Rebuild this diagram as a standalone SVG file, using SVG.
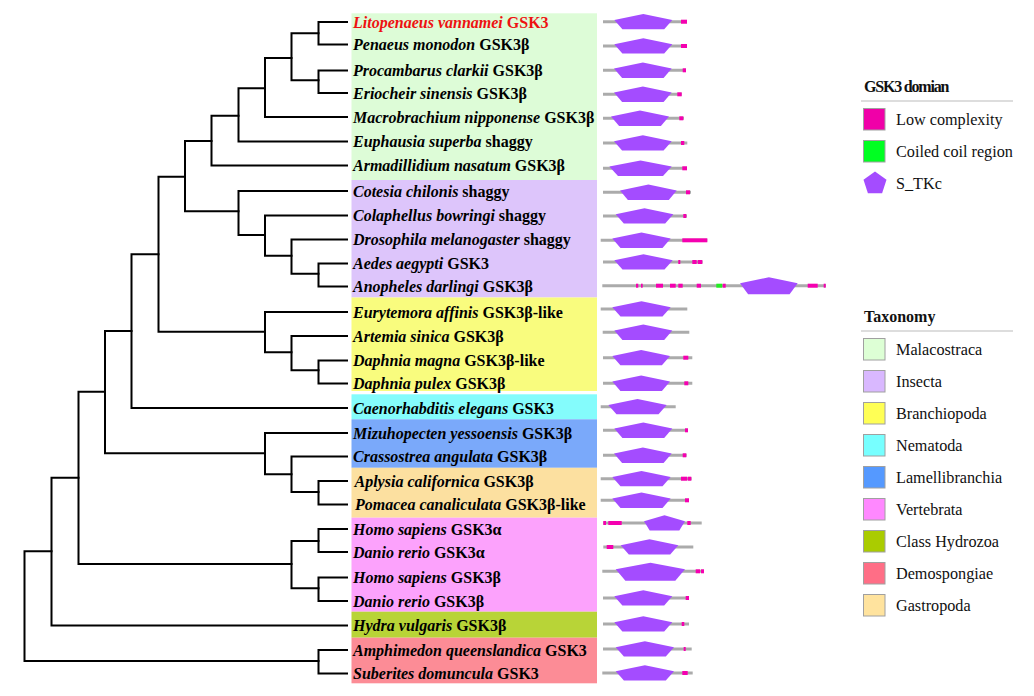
<svg xmlns="http://www.w3.org/2000/svg" width="1034" height="696" viewBox="0 0 1034 696">
<style>
.tree{fill:none;stroke:#000;stroke-width:2;stroke-linecap:square;stroke-linejoin:miter}
.lbl{font-family:"Liberation Serif","Times New Roman",serif;font-size:16px;font-weight:bold;fill:#000}
.lbl tspan.sp{font-style:italic}
.red{fill:#EE1111}
.bb{stroke:#ABABAB;stroke-width:3}
.pe{fill:#A44CFF}
.lc{fill:#F500B0}
.cc{fill:#22EE22}
.lt{font-family:"Liberation Serif","Times New Roman",serif;font-size:16px;font-weight:bold;fill:#111}
.li{font-family:"Liberation Serif","Times New Roman",serif;font-size:16.2px;fill:#111}
.sw{stroke:#A0A0A0;stroke-width:1}
.rule{stroke:#BBBBBB;stroke-width:1}
</style>
<rect width="1034" height="696" fill="#fff"/>
<g id="bands">
<rect x="351.5" y="13.3" width="245.5" height="166.7" fill="#DDFCD7"/>
<rect x="351.5" y="180" width="245.5" height="117.5" fill="#DDC5FB"/>
<rect x="351.5" y="297.5" width="245.5" height="93.5" fill="#F9FC7E"/>
<rect x="351.5" y="394.3" width="245.5" height="25" fill="#84FCFC"/>
<rect x="351.5" y="419.3" width="245.5" height="48.5" fill="#7AA9FA"/>
<rect x="351.5" y="467.8" width="245.5" height="49.9" fill="#FCE0A0"/>
<rect x="351.5" y="517.7" width="245.5" height="94" fill="#FCA2FC"/>
<rect x="351.5" y="611.7" width="245.5" height="26" fill="#B8D437"/>
<rect x="351.5" y="637.7" width="245.5" height="45.6" fill="#FC8C96"/>
</g>
<g id="connectors" class="tree">
<path d="M347,22 H318.5 V44.5 H347"/>
<path d="M347,70.5 H318.5 V93 H347"/>
<path d="M318.5,33.3 H291.5 V80.3 H318.5"/>
<path d="M291.5,58 H265 V117 H347"/>
<path d="M265,88.3 H238.5 V141.5 H347"/>
<path d="M238.5,115.7 H211.5 V165.5 H347"/>
<path d="M211.5,141 H185 V211.3 H238.5"/>
<path d="M347,191 H238.5 V235 H265"/>
<path d="M347,215.5 H265 V255.7 H291.5"/>
<path d="M347,239.5 H291.5 V273.7 H318.5"/>
<path d="M347,263.5 H318.5 V286.5 H347"/>
<path d="M185,176.7 H158.5 V331.7 H265"/>
<path d="M347,312 H265 V352.3 H291.5"/>
<path d="M347,336 H291.5 V370.3 H318.5"/>
<path d="M347,360.5 H318.5 V383.5 H347"/>
<path d="M158.5,254.3 H131.5 V408 H347"/>
<path d="M131.5,331 H105 V453.3 H265"/>
<path d="M347,433 H265 V474.3 H291.5"/>
<path d="M347,456.5 H291.5 V492 H318.5"/>
<path d="M347,481 H318.5 V504.5 H347"/>
<path d="M105,391.7 H78.5 V564 H291.5"/>
<path d="M318.5,541 H291.5 V588.3 H318.5"/>
<path d="M347,529 H318.5 V552 H347"/>
<path d="M347,577.5 H318.5 V601 H347"/>
<path d="M78.5,477.7 H51.5 V625.5 H347"/>
<path d="M51.5,551.3 H24.5 V661 H318.5"/>
<path d="M347,650 H318.5 V673.5 H347"/>
</g>
<g id="labels">
<text class="lbl red" x="353" y="27.5"><tspan class="sp">Litopenaeus vannamei</tspan> GSK3</text>
<text class="lbl" x="353" y="50"><tspan class="sp">Penaeus monodon</tspan> GSK3β</text>
<text class="lbl" x="353" y="76"><tspan class="sp">Procambarus clarkii</tspan> GSK3β</text>
<text class="lbl" x="353" y="98.5"><tspan class="sp">Eriocheir sinensis</tspan> GSK3β</text>
<text class="lbl" x="353" y="122.5"><tspan class="sp">Macrobrachium nipponense</tspan> GSK3β</text>
<text class="lbl" x="353" y="147"><tspan class="sp">Euphausia superba</tspan> shaggy</text>
<text class="lbl" x="353" y="171"><tspan class="sp">Armadillidium nasatum</tspan> GSK3β</text>
<text class="lbl" x="353" y="196.5"><tspan class="sp">Cotesia chilonis</tspan> shaggy</text>
<text class="lbl" x="353" y="221"><tspan class="sp">Colaphellus bowringi</tspan> shaggy</text>
<text class="lbl" x="353" y="245"><tspan class="sp">Drosophila melanogaster</tspan> shaggy</text>
<text class="lbl" x="353" y="269"><tspan class="sp">Aedes aegypti</tspan> GSK3</text>
<text class="lbl" x="353" y="292"><tspan class="sp">Anopheles darlingi</tspan> GSK3β</text>
<text class="lbl" x="353" y="317.5"><tspan class="sp">Eurytemora affinis</tspan> GSK3β-like</text>
<text class="lbl" x="353" y="341.5"><tspan class="sp">Artemia sinica</tspan> GSK3β</text>
<text class="lbl" x="353" y="366"><tspan class="sp">Daphnia magna</tspan> GSK3β-like</text>
<text class="lbl" x="353" y="389"><tspan class="sp">Daphnia pulex</tspan> GSK3β</text>
<text class="lbl" x="353" y="413.5"><tspan class="sp">Caenorhabditis elegans</tspan> GSK3</text>
<text class="lbl" x="353" y="438.5"><tspan class="sp">Mizuhopecten yessoensis</tspan> GSK3β</text>
<text class="lbl" x="353" y="462"><tspan class="sp">Crassostrea angulata</tspan> GSK3β</text>
<text class="lbl" x="354.5" y="486.5"><tspan class="sp">Aplysia californica</tspan> GSK3β</text>
<text class="lbl" x="355" y="510"><tspan class="sp">Pomacea canaliculata</tspan> GSK3β-like</text>
<text class="lbl" x="353" y="534.5"><tspan class="sp">Homo sapiens</tspan> GSK3α</text>
<text class="lbl" x="353" y="557.5"><tspan class="sp">Danio rerio</tspan> GSK3α</text>
<text class="lbl" x="353" y="583"><tspan class="sp">Homo sapiens</tspan> GSK3β</text>
<text class="lbl" x="353" y="606.5"><tspan class="sp">Danio rerio</tspan> GSK3β</text>
<text class="lbl" x="353" y="631"><tspan class="sp">Hydra vulgaris</tspan> GSK3β</text>
<text class="lbl" x="353" y="655.5"><tspan class="sp">Amphimedon queenslandica</tspan> GSK3</text>
<text class="lbl" x="353" y="679"><tspan class="sp">Suberites domuncula</tspan> GSK3</text>
</g>
<g id="domains">
<g id="d1"><line class="bb" x1="603" y1="21.7" x2="687" y2="21.7"/><polygon class="pe" points="614.3,20 643.3,14 672.3,20 664.2,29.3 622.4,29.3"/><rect class="lc" x="681" y="19.7" width="6" height="4"/></g>
<g id="d2"><line class="bb" x1="603" y1="46" x2="687" y2="46"/><polygon class="pe" points="614.3,44.3 643.3,38.3 672.3,44.3 664.2,53.6 622.4,53.6"/><rect class="lc" x="681" y="44" width="6" height="4"/></g>
<g id="d3"><line class="bb" x1="603" y1="70.3" x2="686" y2="70.3"/><polygon class="pe" points="614,68.6 642.9,62.6 671.7,68.6 663.6,77.9 622.1,77.9"/><rect class="lc" x="682.7" y="68.3" width="3.3" height="4"/></g>
<g id="d4"><line class="bb" x1="603" y1="94.3" x2="681.7" y2="94.3"/><polygon class="pe" points="614,92.6 642.9,86.6 671.7,92.6 663.6,101.9 622.1,101.9"/><rect class="lc" x="677.3" y="92.3" width="4.4" height="4"/></g>
<g id="d5"><line class="bb" x1="603" y1="118.3" x2="684" y2="118.3"/><polygon class="pe" points="611,116.6 640,110.6 669,116.6 660.9,125.9 619.1,125.9"/><rect class="lc" x="679.3" y="116.3" width="4" height="4"/></g>
<g id="d6"><line class="bb" x1="603" y1="143" x2="687.3" y2="143"/><polygon class="pe" points="614,141.3 642.9,135.3 671.7,141.3 663.6,150.6 622.1,150.6"/><rect class="lc" x="681" y="141" width="3.3" height="4"/></g>
<g id="d7"><line class="bb" x1="603" y1="168.3" x2="687" y2="168.3"/><polygon class="pe" points="609.3,166.6 640.5,160.6 671.7,166.6 663,175.9 618,175.9"/><rect class="lc" x="682.3" y="166.3" width="4.7" height="4"/></g>
<g id="d8"><line class="bb" x1="603" y1="192.3" x2="691" y2="192.3"/><polygon class="pe" points="620,190.6 648.4,184.6 676.7,190.6 668.8,199.9 627.9,199.9"/><rect class="lc" x="686" y="190.3" width="4" height="4"/></g>
<g id="d9"><line class="bb" x1="603" y1="216" x2="687" y2="216"/><polygon class="pe" points="615.7,214.3 644.5,208.3 673.3,214.3 665.2,223.6 623.8,223.6"/><rect class="lc" x="683.3" y="214" width="3" height="4"/></g>
<g id="d10"><line class="bb" x1="600.7" y1="240.3" x2="707.3" y2="240.3"/><polygon class="pe" points="612.3,238.6 641.5,232.6 670.7,238.6 662.5,247.9 620.5,247.9"/><rect class="lc" x="682.3" y="238.3" width="25" height="4"/></g>
<g id="d11"><line class="bb" x1="603" y1="262" x2="702.7" y2="262"/><polygon class="pe" points="614.3,260.3 643.5,254.3 672.7,260.3 664.5,269.6 622.5,269.6"/><rect class="lc" x="678.3" y="260" width="2" height="4"/><rect class="lc" x="692.3" y="260" width="4.4" height="4"/><rect class="lc" x="697.7" y="260" width="4.6" height="4"/></g>
<g id="d12"><line class="bb" x1="602.3" y1="285.7" x2="826" y2="285.7"/><polygon class="pe" points="740,283.3 768.9,277.3 797.7,283.3 789.6,294.3 748.1,294.3"/><rect class="lc" x="636" y="283.7" width="2.3" height="4"/><rect class="lc" x="641" y="283.7" width="1.7" height="4"/><rect class="lc" x="656" y="283.7" width="7" height="4"/><rect class="lc" x="670" y="283.7" width="5.7" height="4"/><rect class="lc" x="678.3" y="283.7" width="4.4" height="4"/><rect class="lc" x="696.7" y="283.7" width="4.3" height="4"/><rect class="cc" x="716.3" y="283.7" width="6" height="4"/><rect class="lc" x="722.7" y="283.7" width="3" height="4"/><rect class="lc" x="807.7" y="283.7" width="10" height="4"/><rect class="lc" x="823.7" y="283.7" width="2" height="4"/></g>
<g id="d13"><line class="bb" x1="600.7" y1="309" x2="687.3" y2="309"/><polygon class="pe" points="612.3,307.3 641.5,301.3 670.7,307.3 662.5,316.6 620.5,316.6"/></g>
<g id="d14"><line class="bb" x1="602.7" y1="332.3" x2="689.3" y2="332.3"/><polygon class="pe" points="614.3,330.6 643.3,324.6 672.3,330.6 664.2,339.9 622.4,339.9"/></g>
<g id="d15"><line class="bb" x1="603" y1="357.7" x2="692.3" y2="357.7"/><polygon class="pe" points="612.3,356 641.2,350 670,356 661.9,365.3 620.4,365.3"/><rect class="lc" x="683.3" y="355.7" width="5" height="4"/></g>
<g id="d16"><line class="bb" x1="603" y1="383.3" x2="692.3" y2="383.3"/><polygon class="pe" points="612.3,381.6 641.2,375.6 670,381.6 661.9,390.9 620.4,390.9"/><rect class="lc" x="684.3" y="381.3" width="4" height="4"/></g>
<g id="d17"><line class="bb" x1="600.7" y1="406.7" x2="675.7" y2="406.7"/><polygon class="pe" points="608.3,405 637.5,399 666.7,405 658.5,414.3 616.5,414.3"/></g>
<g id="d18"><line class="bb" x1="603" y1="430.3" x2="688" y2="430.3"/><polygon class="pe" points="614.3,428.6 643.3,422.6 672.3,428.6 664.2,437.9 622.4,437.9"/><rect class="lc" x="685" y="428.3" width="3" height="4"/></g>
<g id="d19"><line class="bb" x1="603" y1="455.3" x2="686.7" y2="455.3"/><polygon class="pe" points="614,453.6 642.9,447.6 671.7,453.6 663.6,462.9 622.1,462.9"/><rect class="lc" x="682.7" y="453.3" width="3.6" height="4"/></g>
<g id="d20"><line class="bb" x1="600.7" y1="478.7" x2="691.7" y2="478.7"/><polygon class="pe" points="612.3,477 641.5,471 670.7,477 662.5,486.3 620.5,486.3"/><rect class="lc" x="681" y="476.7" width="6.3" height="4"/><rect class="lc" x="688" y="476.7" width="3.3" height="4"/></g>
<g id="d21"><line class="bb" x1="600.7" y1="500.3" x2="689" y2="500.3"/><polygon class="pe" points="612.3,498.6 641.5,492.6 670.7,498.6 662.5,507.9 620.5,507.9"/><rect class="lc" x="685" y="498.3" width="4" height="4"/></g>
<g id="d22"><line class="bb" x1="603.3" y1="523" x2="701.7" y2="523"/><rect class="lc" x="603.3" y="521" width="2.7" height="4"/><rect class="lc" x="608.3" y="521" width="13.4" height="4"/><polygon class="pe" points="644,521.3 664.5,515.3 685,521.3 679.3,530.6 649.7,530.6"/><rect class="lc" x="687.3" y="521" width="3.4" height="4"/></g>
<g id="d23"><line class="bb" x1="603.3" y1="547" x2="693.3" y2="547"/><rect class="lc" x="606.7" y="545" width="6.6" height="4"/><polygon class="pe" points="620.7,545.3 649.5,539.3 678.3,545.3 670.2,554.6 628.8,554.6"/></g>
<g id="d24"><line class="bb" x1="602.3" y1="571.3" x2="704" y2="571.3"/><polygon class="pe" points="615.7,569.3 650.4,562.7 685,569.3 675.3,580.7 625.4,580.7"/><rect class="lc" x="695.7" y="569.3" width="4.3" height="4"/><rect class="lc" x="701" y="569.3" width="3" height="4"/></g>
<g id="d25"><line class="bb" x1="603" y1="598" x2="689" y2="598"/><polygon class="pe" points="614.3,596.3 643.3,590.3 672.3,596.3 664.2,605.6 622.4,605.6"/><rect class="lc" x="685.7" y="596" width="3.3" height="4"/></g>
<g id="d26"><line class="bb" x1="603" y1="624" x2="689" y2="624"/><polygon class="pe" points="614.3,622.3 643.3,616.3 672.3,622.3 664.2,631.6 622.4,631.6"/><rect class="lc" x="681.7" y="622" width="2.6" height="4"/></g>
<g id="d27"><line class="bb" x1="603" y1="649" x2="691.7" y2="649"/><polygon class="pe" points="615.7,647.3 644.9,641.3 674,647.3 665.8,656.6 623.9,656.6"/><rect class="lc" x="683.7" y="647" width="2" height="4"/></g>
<g id="d28"><line class="bb" x1="602.3" y1="673" x2="692.7" y2="673"/><polygon class="pe" points="615.7,671.3 644.9,665.3 674,671.3 665.8,680.6 623.9,680.6"/><rect class="lc" x="682.3" y="671" width="5.4" height="4"/></g>
</g>
<g id="legend-domain">
<text class="lt" x="864" y="92" letter-spacing="-1.2">GSK3 domian</text>
<line class="rule" x1="861" y1="101" x2="1013" y2="101"/>
<rect class="sw" x="863.5" y="108.5" width="21.5" height="21.5" fill="#F000A8"/>
<text class="li" x="896" y="124.5">Low complexity</text>
<rect class="sw" x="863.5" y="140.5" width="21.5" height="21.5" fill="#00FF22"/>
<text class="li" x="896" y="156.5">Coiled coil region</text>
<polygon class="pe" points="875,171.5 886.5,179.8 882.1,193.3 867.9,193.3 863.5,179.8"/>
<text class="li" x="896" y="188.5">S_TKc</text>
</g>
<g id="legend-taxonomy">
<text class="lt" x="864" y="322">Taxonomy</text>
<line class="rule" x1="861" y1="331" x2="1013" y2="331"/>
<rect class="sw" x="863.5" y="338.5" width="21.5" height="21.5" fill="#DDFFD5"/>
<text class="li" x="896" y="354.5">Malacostraca</text>
<rect class="sw" x="863.5" y="370.5" width="21.5" height="21.5" fill="#D9B8FF"/>
<text class="li" x="896" y="386.5">Insecta</text>
<rect class="sw" x="863.5" y="402.5" width="21.5" height="21.5" fill="#FFFF55"/>
<text class="li" x="896" y="418.5">Branchiopoda</text>
<rect class="sw" x="863.5" y="434.5" width="21.5" height="21.5" fill="#77FFFF"/>
<text class="li" x="896" y="450.5">Nematoda</text>
<rect class="sw" x="863.5" y="466.5" width="21.5" height="21.5" fill="#5599FF"/>
<text class="li" x="896" y="482.5">Lamellibranchia</text>
<rect class="sw" x="863.5" y="498.5" width="21.5" height="21.5" fill="#FF88FF"/>
<text class="li" x="896" y="514.5">Vertebrata</text>
<rect class="sw" x="863.5" y="530.5" width="21.5" height="21.5" fill="#AACC00"/>
<text class="li" x="896" y="546.5">Class Hydrozoa</text>
<rect class="sw" x="863.5" y="562.5" width="21.5" height="21.5" fill="#FF6E86"/>
<text class="li" x="896" y="578.5">Demospongiae</text>
<rect class="sw" x="863.5" y="594.5" width="21.5" height="21.5" fill="#FFE39E"/>
<text class="li" x="896" y="610.5">Gastropoda</text>
</g>
</svg>
